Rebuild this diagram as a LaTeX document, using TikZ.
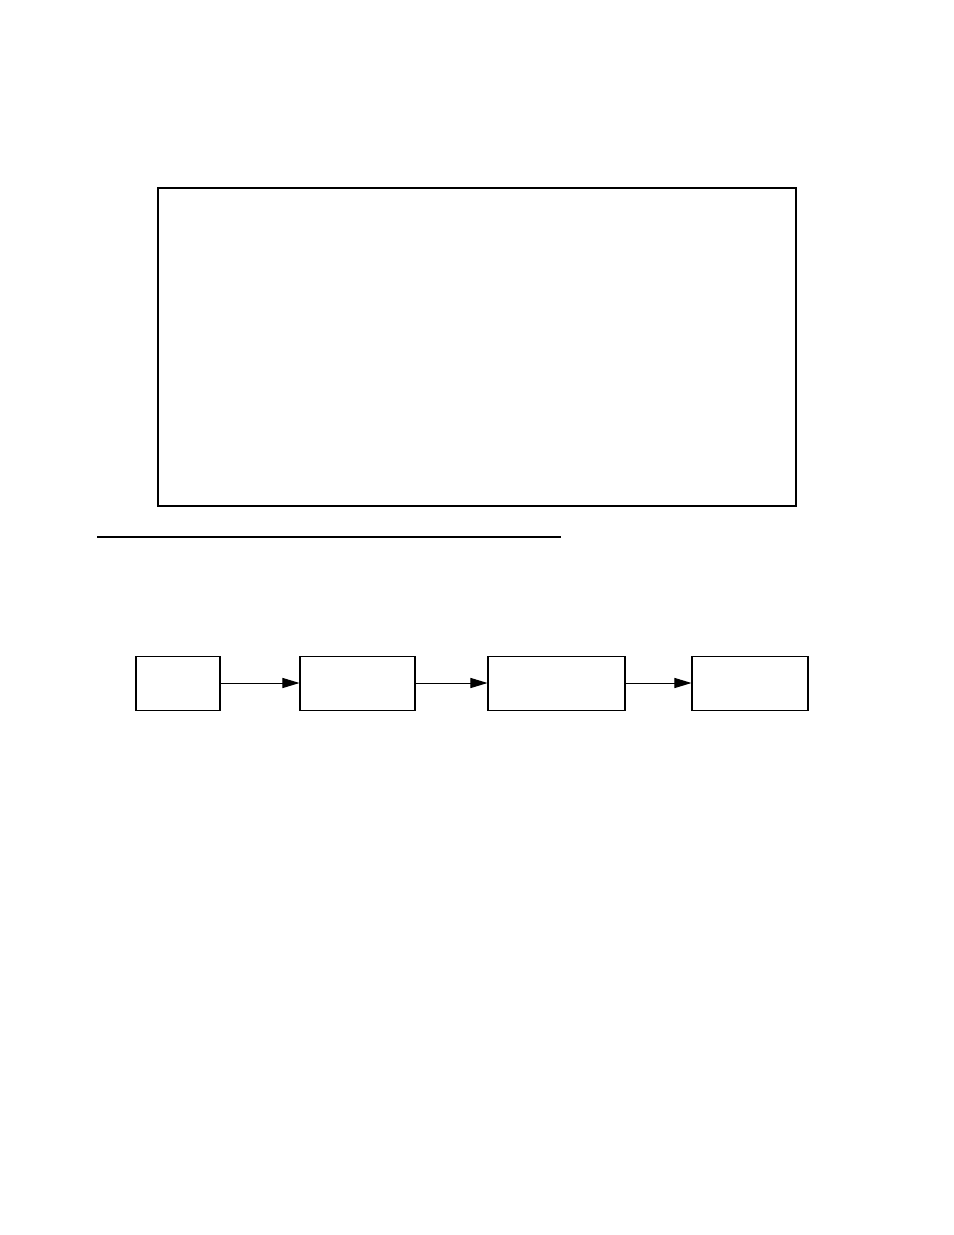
\documentclass[tikz,border=0pt]{standalone}
\usepackage{tikz}
\usetikzlibrary{arrows.meta}

\begin{document}
\begin{tikzpicture}[x=0.6415pt,y=-0.6415pt]
		\useasboundingbox (0,0) rectangle (954,1235);

		\draw [line width=1.3pt] (158,188) rectangle (796,506);
		\draw [line width=0.9pt] (97,537) -- (561,537);

		\begin{scope}[every node/.style={rectangle,draw,line width=0.65pt,inner sep=0pt,minimum height=54*0.6415pt}]
			\node (in)   at (178,683)   [minimum width=84*0.6415pt]  {};
			\node (pre)  at (357.5,683) [minimum width=115*0.6415pt] {};
			\node (proc) at (556.5,683) [minimum width=137*0.6415pt] {};
			\node (out)  at (750,683)   [minimum width=116*0.6415pt] {};
		\end{scope}

		\begin{scope}[>={Triangle[length=11pt,width=6.5pt]},
					every edge/.style={draw=black,line width=0.65pt}]
			\path [->] (in) edge (pre);
			\path [->] (pre) edge (proc);
			\path [->] (proc) edge (out);
		\end{scope}
	\end{tikzpicture}
\end{document}
